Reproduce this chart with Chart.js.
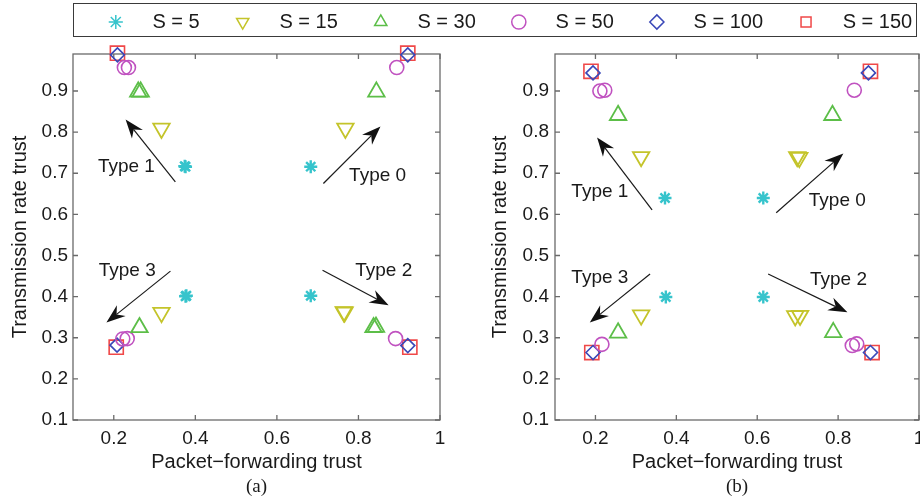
<!DOCTYPE html>
<html>
<head>
<meta charset="utf-8">
<script src="https://cdn.jsdelivr.net/npm/chart.js@4.4.1/dist/chart.umd.min.js"></script>
<style>
  html, body { margin: 0; padding: 0; background: #fff; overflow: hidden; }
  #wrap { position: relative; width: 920px; height: 499px; overflow: hidden; }
  #wrap canvas { position: absolute; }
  #legendBox { position: absolute; left: 73px; top: 3px; width: 842px; height: 32px; border: 1.5px solid #3a3a3a; }
</style>
</head>
<body>
<div id="wrap">
  <canvas id="chartA" width="460" height="499" style="left:0;top:0"></canvas>
  <canvas id="chartB" width="500" height="499" style="left:460px;top:0"></canvas>
  <div id="legendBox"></div>
  <canvas id="legend" width="1010" height="140" style="left:4px;top:-21px"></canvas>
</div>
<script>
// axis ranges and tick labels (same for both panels)
const xMin = 0.1, xMax = 1.0;
const yMin = 0.1, yMax = 0.99;
const xTicks = [0.2, 0.4, 0.6, 0.8, 1];
const yTicks = [0.1, 0.2, 0.3, 0.4, 0.5, 0.6, 0.7, 0.8, 0.9];

const seriesLabels = ['S = 5', 'S = 15', 'S = 30', 'S = 50', 'S = 100', 'S = 150'];

// panel (a): [packet-forwarding trust, transmission rate trust]
const aS5   = [[0.376, 0.716], [0.374, 0.717], [0.683, 0.716], [0.378, 0.402], [0.376, 0.401], [0.683, 0.402]];
const aS15  = [[0.317, 0.809], [0.768, 0.809], [0.317, 0.361], [0.766, 0.362], [0.764, 0.363]];
const aS30  = [[0.260, 0.898], [0.266, 0.898], [0.844, 0.898], [0.263, 0.325], [0.837, 0.325], [0.843, 0.326]];
const aS50  = [[0.226, 0.957], [0.236, 0.957], [0.894, 0.957], [0.222, 0.297], [0.233, 0.298], [0.891, 0.298]];
const aS100 = [[0.209, 0.988], [0.921, 0.988], [0.208, 0.282], [0.921, 0.281]];
const aS150 = [[0.209, 0.992], [0.921, 0.992], [0.206, 0.277], [0.926, 0.277]];

// panel (b)
const bS5   = [[0.372, 0.640], [0.615, 0.640], [0.374, 0.399], [0.615, 0.399]];
const bS15  = [[0.313, 0.740], [0.699, 0.740], [0.704, 0.738], [0.313, 0.355], [0.694, 0.353], [0.706, 0.354]];
const bS30  = [[0.256, 0.841], [0.786, 0.841], [0.256, 0.312], [0.788, 0.313]];
const bS50  = [[0.211, 0.900], [0.223, 0.902], [0.840, 0.902], [0.216, 0.284], [0.835, 0.281], [0.846, 0.285]];
const bS100 = [[0.194, 0.944], [0.875, 0.944], [0.194, 0.264], [0.880, 0.264]];
const bS150 = [[0.189, 0.948], [0.880, 0.948], [0.191, 0.264], [0.884, 0.264]];

// arrows: [fromX, fromY, tipX, tipY]; labels: [text, x, y]
const aArrows = [[0.351, 0.679, 0.229, 0.831], [0.714, 0.675, 0.854, 0.814], [0.339, 0.462, 0.182, 0.337], [0.712, 0.464, 0.874, 0.379]];
const aLabels = [['Type 1', 0.231, 0.716], ['Type 0', 0.847, 0.694], ['Type 3', 0.233, 0.464], ['Type 2', 0.862, 0.464]];
const bArrows = [[0.340, 0.611, 0.204, 0.787], [0.647, 0.604, 0.813, 0.748], [0.335, 0.455, 0.186, 0.337], [0.627, 0.455, 0.823, 0.362]];
const bLabels = [['Type 1', 0.211, 0.655], ['Type 0', 0.798, 0.633], ['Type 3', 0.211, 0.447], ['Type 2', 0.801, 0.442]];

// marker styles per series
const markerStyle = [
  { pointStyle: 'star',     rotation: 0,   radius: 6.5, width: 2.4, color: '#36c4cc' },
  { pointStyle: 'triangle', rotation: 180, radius: 9.5, width: 1.8, color: '#c4c42a' },
  { pointStyle: 'triangle', rotation: 0,   radius: 9.5, width: 1.8, color: '#5cbe48' },
  { pointStyle: 'circle',   rotation: 0,   radius: 7,   width: 1.6, color: '#c052c0' },
  { pointStyle: 'rectRot',  rotation: 0,   radius: 7,   width: 1.6, color: '#3a48b8' },
  { pointStyle: 'rect',     rotation: 0,   radius: 10,  width: 1.6, color: '#f04848' }
];

const fontFamily = '"Liberation Sans", Arial, sans-serif';
const textColor = '#1a1a1a';
Chart.defaults.font.family = fontFamily;

function buildDatasets(seriesData) {
  return seriesData.map((pts, i) => ({
    label: seriesLabels[i],
    data: pts.map(p => ({ x: p[0], y: p[1] })),
    showLine: false,
    clip: false,
    pointStyle: markerStyle[i].pointStyle,
    pointRotation: markerStyle[i].rotation,
    pointRadius: markerStyle[i].radius,
    pointHoverRadius: markerStyle[i].radius,
    pointBorderColor: markerStyle[i].color,
    pointBackgroundColor: 'rgba(0,0,0,0)',
    pointBorderWidth: markerStyle[i].width,
    borderColor: markerStyle[i].color,
    backgroundColor: 'rgba(0,0,0,0)',
    borderWidth: 1.5
  }));
}

function drawArrow(ctx, x0, y0, x1, y1) {
  const ang = Math.atan2(y1 - y0, x1 - x0);
  const c = Math.cos(ang), s = Math.sin(ang);
  const len = 19, half = 7, back = 13;
  ctx.beginPath();
  ctx.moveTo(x0, y0);
  ctx.lineTo(x1 - back * c, y1 - back * s);
  ctx.stroke();
  ctx.beginPath();
  ctx.moveTo(x1, y1);
  ctx.lineTo(x1 - len * c - half * s, y1 - len * s + half * c);
  ctx.lineTo(x1 - back * c, y1 - back * s);
  ctx.lineTo(x1 - len * c + half * s, y1 - len * s - half * c);
  ctx.closePath();
  ctx.fill();
}

// MATLAB-like box with inward ticks, arrows, type labels and caption
function makeDecor(arrows, labels, caption) {
  return {
    id: 'decor',
    beforeDatasetsDraw(chart) {
      const { ctx, chartArea: ca, scales: { x, y } } = chart;
      ctx.save();
      ctx.strokeStyle = '#6a6a6a';
      ctx.lineWidth = 1.3;
      ctx.strokeRect(ca.left, ca.top, ca.right - ca.left, ca.bottom - ca.top);
      ctx.beginPath();
      xTicks.forEach(v => {
        const px = x.getPixelForValue(v);
        ctx.moveTo(px, ca.bottom); ctx.lineTo(px, ca.bottom - 5);
        ctx.moveTo(px, ca.top); ctx.lineTo(px, ca.top + 5);
      });
      yTicks.forEach(v => {
        const py = y.getPixelForValue(v);
        ctx.moveTo(ca.left, py); ctx.lineTo(ca.left + 5, py);
        ctx.moveTo(ca.right, py); ctx.lineTo(ca.right - 5, py);
      });
      ctx.stroke();
      ctx.restore();
    },
    afterDraw(chart) {
      const { ctx, chartArea: ca, scales: { x, y } } = chart;
      ctx.save();
      ctx.strokeStyle = '#1a1a1a';
      ctx.fillStyle = '#111';
      ctx.lineWidth = 1.2;
      arrows.forEach(a => drawArrow(ctx, x.getPixelForValue(a[0]), y.getPixelForValue(a[1]),
                                         x.getPixelForValue(a[2]), y.getPixelForValue(a[3])));
      ctx.font = '19px ' + fontFamily;
      ctx.fillStyle = textColor;
      ctx.textAlign = 'center';
      ctx.textBaseline = 'middle';
      labels.forEach(l => ctx.fillText(l[0], x.getPixelForValue(l[1]), y.getPixelForValue(l[2])));
      ctx.font = '19px "Liberation Serif", "Times New Roman", serif';
      ctx.fillText(caption, (ca.left + ca.right) / 2, 487);
      ctx.restore();
    }
  };
}

function makeScales(yAxisWidth, yTickPad, yTitlePad) {
  return {
    x: {
      type: 'linear', min: xMin, max: xMax,
      afterBuildTicks: axis => { axis.ticks = xTicks.map(v => ({ value: v })); },
      afterFit: axis => { axis.height = 79; },
      grid: { display: false, drawTicks: false },
      border: { display: false },
      ticks: { padding: 7, color: textColor, font: { size: 19 }, maxRotation: 0, autoSkip: false, callback: v => String(v) },
      title: { display: true, text: 'Packet\u2212forwarding trust', color: textColor, font: { size: 20 }, padding: { top: 0, bottom: 25 } }
    },
    y: {
      type: 'linear', min: yMin, max: yMax,
      afterBuildTicks: axis => { axis.ticks = yTicks.map(v => ({ value: v })); },
      afterFit: axis => { axis.width = yAxisWidth; },
      grid: { display: false, drawTicks: false },
      border: { display: false },
      ticks: { padding: yTickPad, color: textColor, font: { size: 19 }, autoSkip: false, callback: v => v.toFixed(1) },
      title: { display: true, text: 'Transmission rate trust', color: textColor, font: { size: 20 }, padding: { top: yTitlePad, bottom: 0 } }
    }
  };
}

function makePanel(canvasId, seriesData, arrows, labels, caption, yAxisWidth, yTickPad, yTitlePad, padRight) {
  return new Chart(document.getElementById(canvasId), {
    type: 'scatter',
    data: { datasets: buildDatasets(seriesData) },
    options: {
      responsive: false,
      animation: false,
      layout: { padding: { top: 54, right: padRight, bottom: 0, left: 0 } },
      plugins: { legend: { display: false }, tooltip: { enabled: false } },
      scales: makeScales(yAxisWidth, yTickPad, yTitlePad)
    },
    plugins: [makeDecor(arrows, labels, caption)]
  });
}

makePanel('chartA', [aS5, aS15, aS30, aS50, aS100, aS150], aArrows, aLabels, '(a)', 73, 5, 8, 20);
makePanel('chartB', [bS5, bS15, bS30, bS50, bS100, bS150], bArrows, bLabels, '(b)', 95, 6, 28, 41);

// shared legend, drawn by Chart.js on its own canvas
new Chart(document.getElementById('legend'), {
  type: 'scatter',
  data: { datasets: buildDatasets(seriesLabels.map(() => [])) },
  options: {
    responsive: false,
    animation: false,
    layout: { padding: 0 },
    scales: { x: { display: false }, y: { display: false } },
    plugins: {
      tooltip: { enabled: false },
      legend: {
        display: true,
        position: 'top',
        labels: {
          usePointStyle: true,
          boxWidth: 20,
          boxHeight: 10,
          padding: 33,
          color: textColor,
          font: { size: 20 },
          generateLabels: chart => Chart.defaults.plugins.legend.labels.generateLabels(chart)
            .map(item => Object.assign({}, item, { text: '   ' + item.text, lineWidth: 1.5 }))
        }
      }
    }
  }
});
</script>
</body>
</html>
